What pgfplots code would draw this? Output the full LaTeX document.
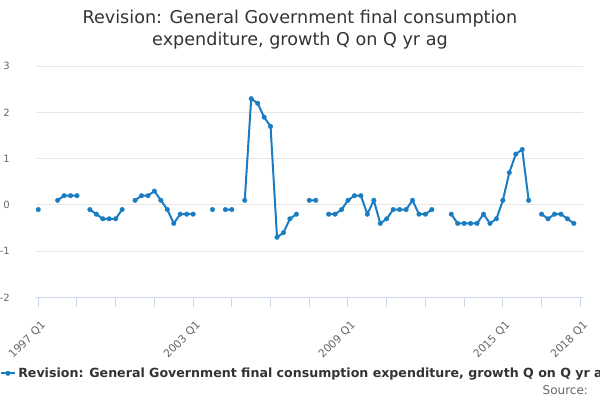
\documentclass[border=0pt]{standalone}
\usepackage{pgfplots}
\pgfplotsset{compat=1.18}
\usepackage{fontspec}
\setmainfont{DejaVu Sans}
\definecolor{cline}{HTML}{1A7DC2}
\definecolor{cgrid}{HTML}{E6E6E6}
\definecolor{caxis}{HTML}{CCD6EB}
\definecolor{ctext}{HTML}{333333}
\definecolor{clab}{HTML}{666666}
\begin{document}
\begin{tikzpicture}
\useasboundingbox (0,0) rectangle (450pt,300pt);
\clip (0,0) rectangle (450pt,300pt);
\node[anchor=base, font=\fontsize{13.2pt}{16pt}\selectfont, text=ctext, inner sep=0pt] at (225pt,282.5pt) {Revision: General Government final consumption};
\node[anchor=base, font=\fontsize{13.2pt}{16pt}\selectfont, text=ctext, inner sep=0pt] at (225pt,265.7pt) {expenditure, growth Q on Q yr ag};
\node[anchor=base east, font=\fontsize{9pt}{11pt}\selectfont, text=clab, inner sep=0pt] at (441.2pt,4.3pt) {Source:};
\begin{axis}[
  at={(27pt,77pt)}, anchor=south west,
  scale only axis, width=410.25pt, height=173.25pt,
  xmin=-0.35, xmax=84.42, ymin=-2, ymax=3,
  axis x line=bottom, axis y line=left,
  axis line style={-},
  x axis line style={draw=caxis, line width=0.75pt},
  y axis line style={draw=none},
  ymajorgrids, grid style={cgrid, line width=0.75pt},
  ytick={-2,-1,0,1,2,3},
  xtick={0,6,...,84},
  xticklabels={1997 Q1,,,,2003 Q1,,,,2009 Q1,,,,2015 Q1,,2018 Q1},
  tick align=outside,
  major tick length=7.5pt,
  xtick style={draw=caxis, line width=0.75pt},
  ytick style={draw=none},
  yticklabel style={font=\fontsize{7.5pt}{9pt}\selectfont, text=clab, anchor=east, inner sep=0pt, xshift=-12pt},
  /pgf/number format/assume math mode=true,
  xticklabel style={font=\fontsize{8.1pt}{9.5pt}\selectfont, text=clab, xshift=1.5pt, yshift=-9.5pt, rotate=45, anchor=north east, inner sep=0pt},
  unbounded coords=jump,
  clip=false,
  legend style={at={(axis description cs:-0.0658,-0.329)}, anchor=west, draw=none, fill=none, inner sep=0pt, font=\bfseries\fontsize{9.45pt}{11pt}\selectfont, text=ctext, legend cell align=left},
  legend image code/.code={\draw[mark repeat=2, mark phase=2, #1] plot coordinates {(0pt,0pt) (5pt,0pt) (10pt,0pt)};},
]
\addplot[cline, line width=1.5pt, mark=*, mark size=1.75pt, mark options={solid, line width=0.2pt}] table[x=x, y=y] {
x y
0 -0.1
1 nan
2 nan
3 0.1
4 0.2
5 0.2
6 0.2
7 nan
8 -0.1
9 -0.2
10 -0.3
11 -0.3
12 -0.3
13 -0.1
14 nan
15 0.1
16 0.2
17 0.2
18 0.3
19 0.1
20 -0.1
21 -0.4
22 -0.2
23 -0.2
24 -0.2
25 nan
26 nan
27 -0.1
28 nan
29 -0.1
30 -0.1
31 nan
32 0.1
33 2.3
34 2.2
35 1.9
36 1.7
37 -0.7
38 -0.6
39 -0.3
40 -0.2
41 nan
42 0.1
43 0.1
44 nan
45 -0.2
46 -0.2
47 -0.1
48 0.1
49 0.2
50 0.2
51 -0.2
52 0.1
53 -0.4
54 -0.3
55 -0.1
56 -0.1
57 -0.1
58 0.1
59 -0.2
60 -0.2
61 -0.1
62 nan
63 nan
64 -0.2
65 -0.4
66 -0.4
67 -0.4
68 -0.4
69 -0.2
70 -0.4
71 -0.3
72 0.1
73 0.7
74 1.1
75 1.2
76 0.1
77 nan
78 -0.2
79 -0.3
80 -0.2
81 -0.2
82 -0.3
83 -0.4
};
\addlegendentry{Revision: General Government final consumption expenditure, growth Q on Q yr ag}
\end{axis}
\end{tikzpicture}
\end{document}
